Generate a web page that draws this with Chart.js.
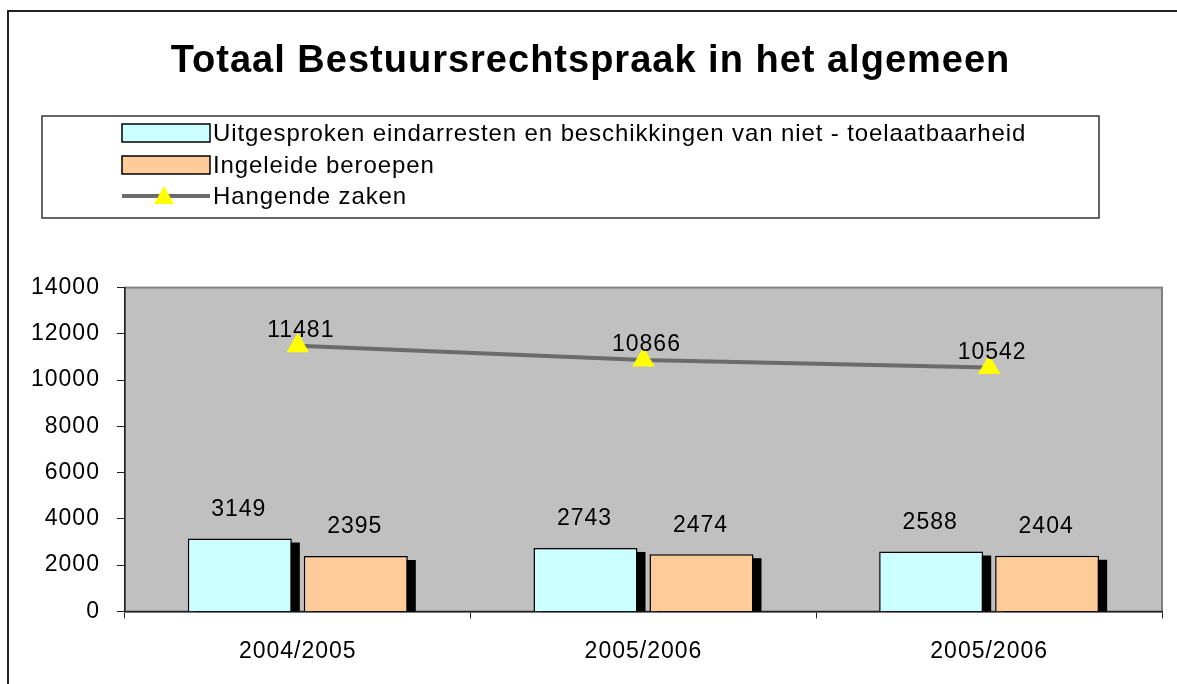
<!DOCTYPE html>
<html>
<head>
<meta charset="utf-8">
<script src="https://cdn.jsdelivr.net/npm/chart.js@4/dist/chart.umd.min.js"></script>
<style>
    html, body {
        margin: 0;
        padding: 0;
        background: #ffffff;
        overflow: hidden;
    }

    #frame {
        position: absolute;
        left: 7px;
        top: 10px;
        width: 1200px;
        height: 700px;
        border-left: 2px solid #222;
        border-top: 2px solid #222;
    }

    #wrap {
        position: absolute;
        left: 0;
        top: 0;
        width: 1177px;
        height: 684px;
    }
</style>
</head>
<body>

<div id="frame"></div>

<div id="wrap">
    <canvas id="bestuursChart"></canvas>
</div>

<script>

const categories = ['2004/2005', '2005/2006', '2005/2006'];

const uitgesproken = [3149, 2743, 2588];

const ingeleide = [2395, 2474, 2404];

const hangende = [11481, 10866, 10542];

const yMin = 0;
const yMax = 14000;
const yStep = 2000;

const FONT = "'Liberation Sans', Arial, sans-serif";

// slightly wider letter spacing for all canvas text
const spacingPlugin = {

    id: 'letterSpacing',

    beforeDraw(chart) {
        chart.ctx.letterSpacing = '1px';
    }

};

// grey plot area with a thin border, drawn before the axes
const plotAreaPlugin = {

    id: 'plotArea',

    beforeDraw(chart) {

        const { ctx, chartArea } = chart;

        ctx.save();

        ctx.fillStyle = '#c0c0c0';
        ctx.fillRect(
            chartArea.left,
            chartArea.top,
            chartArea.right - chartArea.left,
            chartArea.bottom - chartArea.top
        );

        ctx.strokeStyle = '#808080';
        ctx.lineWidth = 2;
        ctx.strokeRect(
            chartArea.left,
            chartArea.top,
            chartArea.right - chartArea.left,
            chartArea.bottom - chartArea.top
        );

        ctx.restore();

    }

};

// black drop shadow behind every bar
const barShadowPlugin = {

    id: 'barShadow',

    beforeDatasetDraw(chart, args) {

        if (args.meta.type !== 'bar') {
            return;
        }

        const { ctx, chartArea } = chart;

        ctx.save();

        ctx.beginPath();
        ctx.rect(
            chartArea.left,
            chartArea.top,
            chartArea.right - chartArea.left,
            chartArea.bottom - chartArea.top
        );
        ctx.clip();

        ctx.fillStyle = '#000000';

        args.meta.data.forEach(bar => {

            const { x, y, base, width } =
                bar.getProps(['x', 'y', 'base', 'width'], true);

            ctx.fillRect(
                x - width / 2 + 8,
                y + 4,
                width,
                base - y
            );

        });

        ctx.restore();

    }

};

// value written above each bar and each point
const valueLabelPlugin = {

    id: 'valueLabels',

    afterDatasetsDraw(chart) {

        const ctx = chart.ctx;

        ctx.save();

        ctx.font = `23px ${FONT}`;
        ctx.letterSpacing = '1px';
        ctx.fillStyle = '#000000';
        ctx.textAlign = 'center';
        ctx.textBaseline = 'middle';

        chart.data.datasets.forEach((dataset, i) => {

            const meta = chart.getDatasetMeta(i);

            const isBar =
                meta.type === 'bar';

            meta.data.forEach((el, j) => {
                ctx.fillText(
                    String(dataset.data[j]),
                    isBar ? el.x - 1 : el.x + 3,
                    isBar ? el.y - 29 : el.y - 15
                );
            });

        });

        ctx.restore();

    }

};

// framed legend box with one row per series
const boxLegendPlugin = {

    id: 'boxLegend',

    afterDraw(chart) {

        const ctx = chart.ctx;

        const box = { left: 42, top: 116, right: 1099, bottom: 218 };

        const rowY = [133, 165, 196];

        const swatchLeft = 122;
        const swatchWidth = 88;
        const textLeft = 213;

        ctx.save();

        ctx.strokeStyle = '#333333';
        ctx.lineWidth = 1.5;
        ctx.strokeRect(
            box.left,
            box.top,
            box.right - box.left,
            box.bottom - box.top
        );

        ctx.font = `24px ${FONT}`;
        ctx.letterSpacing = '0.9px';
        ctx.textAlign = 'left';
        ctx.textBaseline = 'middle';

        chart.data.datasets.forEach((dataset, i) => {

            const y = rowY[i];

            if (dataset.type === 'line') {

                ctx.strokeStyle = dataset.borderColor;
                ctx.lineWidth = 4;
                ctx.beginPath();
                ctx.moveTo(swatchLeft, y);
                ctx.lineTo(swatchLeft + swatchWidth, y);
                ctx.stroke();

                const cx = swatchLeft + swatchWidth / 2 - 2;

                ctx.fillStyle = dataset.pointBackgroundColor;
                ctx.beginPath();
                ctx.moveTo(cx, y - 10);
                ctx.lineTo(cx + 10, y + 8);
                ctx.lineTo(cx - 10, y + 8);
                ctx.closePath();
                ctx.fill();

            } else {

                ctx.fillStyle = dataset.backgroundColor;
                ctx.fillRect(swatchLeft, y - 9, swatchWidth, 18);

                ctx.strokeStyle = '#000000';
                ctx.lineWidth = 1.5;
                ctx.strokeRect(swatchLeft, y - 9, swatchWidth, 18);

            }

            ctx.fillStyle = '#000000';
            ctx.fillText(dataset.label, textLeft, y + 1);

        });

        ctx.restore();

    }

};

function renderBestuursChart() {

    const ctx =
        document.getElementById('bestuursChart');

    new Chart(ctx, {

        type: 'bar',

        data: {

            labels: categories,

            datasets: [
                {
                    label: 'Uitgesproken eindarresten en beschikkingen van niet - toelaatbaarheid',
                    data: uitgesproken,
                    backgroundColor: '#ccffff',
                    borderColor: '#000000',
                    borderWidth: 1.5,
                    barPercentage: 0.897,
                    categoryPercentage: 0.671,
                    clip: 0,
                    order: 1
                },
                {
                    label: 'Ingeleide beroepen',
                    data: ingeleide,
                    backgroundColor: '#ffcc99',
                    borderColor: '#000000',
                    borderWidth: 1.5,
                    barPercentage: 0.897,
                    categoryPercentage: 0.671,
                    clip: 0,
                    order: 1
                },
                {
                    type: 'line',
                    label: 'Hangende zaken',
                    data: hangende,
                    borderColor: '#6b6b6b',
                    borderWidth: 4,
                    tension: 0,
                    pointStyle: 'triangle',
                    pointRadius: 13,
                    pointBackgroundColor: '#ffff00',
                    pointBorderColor: '#ffff00',
                    pointBorderWidth: 0,
                    order: 0
                }
            ]

        },

        options: {

            responsive: true,

            maintainAspectRatio: false,

            animation: false,

            devicePixelRatio: 1,

            layout: {
                padding: {
                    left: 19,
                    right: 15,
                    top: 0,
                    bottom: 0
                }
            },

            plugins: {

                legend: {
                    display: false
                },

                tooltip: {
                    enabled: false
                },

                title: {
                    display: true,
                    text: 'Totaal Bestuursrechtspraak in het algemeen',
                    color: '#000000',
                    font: {
                        family: FONT,
                        size: 38,
                        weight: 'bold'
                    },
                    padding: {
                        top: 39,
                        bottom: 203
                    }
                }

            },

            scales: {

                x: {
                    offset: true,
                    grid: {
                        offset: true,
                        drawOnChartArea: false,
                        tickLength: 7,
                        tickColor: '#222222'
                    },
                    border: {
                        color: '#222222',
                        width: 1.5
                    },
                    ticks: {
                        color: '#000000',
                        padding: 19,
                        font: {
                            family: FONT,
                            size: 23
                        }
                    }
                },

                y: {
                    min: yMin,
                    max: yMax,
                    grid: {
                        drawOnChartArea: false,
                        tickLength: 8,
                        tickColor: '#222222'
                    },
                    border: {
                        color: '#222222',
                        width: 1.5
                    },
                    ticks: {
                        stepSize: yStep,
                        color: '#000000',
                        padding: 17,
                        font: {
                            family: FONT,
                            size: 23
                        },
                        callback: value => String(value)
                    }
                }

            }

        },

        plugins: [
            spacingPlugin,
            plotAreaPlugin,
            barShadowPlugin,
            valueLabelPlugin,
            boxLegendPlugin
        ]

    });

}

renderBestuursChart();

</script>
</body>
</html>
